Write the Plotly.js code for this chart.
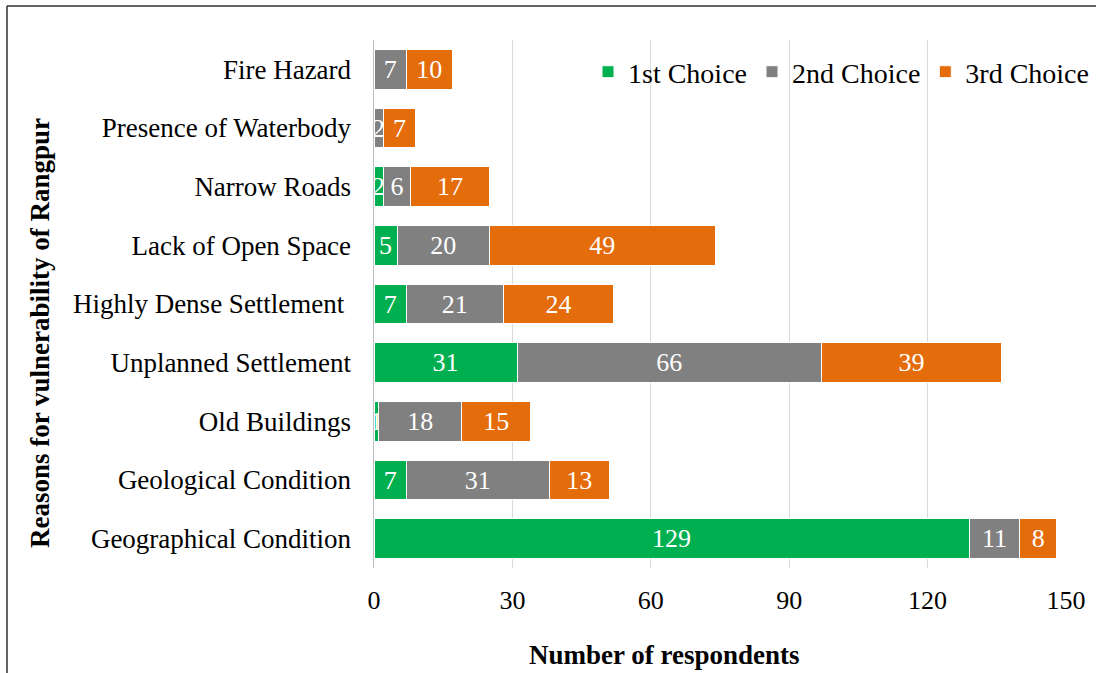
<!DOCTYPE html>
<html>
<head>
<meta charset="utf-8">
<script src="https://cdn.plot.ly/plotly-3.0.1.min.js"></script>
<style>
html,body{margin:0;padding:0;background:#fff;}
#chart{width:1096px;height:673px;}
</style>
</head>
<body>
<div id="chart"></div>
<script>
const categories = ["Geographical Condition","Geological Condition","Old Buildings","Unplanned Settlement","Highly Dense Settlement ","Lack of Open Space","Narrow Roads","Presence of Waterbody","Fire Hazard"];
const firstChoice = [129, 7, 1, 31, 7, 5, 2, 0, 0];
const secondChoice = [11, 31, 18, 66, 21, 20, 6, 2, 7];
const thirdChoice = [8, 13, 15, 39, 24, 49, 17, 7, 10];
const seriesNames = ["1st Choice","2nd Choice","3rd Choice"];
const seriesColors = ["#00B050","#808080","#E46C0A"];
const xTicks = [0, 30, 60, 90, 120, 150];

const FONT = "Liberation Serif, Times New Roman, serif";
const W = 1096, H = 673;
const L = 374, R = 30, T = 40, B = 105;
const pw = W - L - R, ph = H - T - B;
const px = x => (x - L) / pw;
const py = y => (H - B - y) / ph;

const series = [firstChoice, secondChoice, thirdChoice];
const traces = series.map((vals, i) => ({
  type: "bar",
  orientation: "h",
  name: seriesNames[i],
  y: categories,
  x: vals,
  text: vals.map(String),
  textposition: "inside",
  insidetextanchor: "middle",
  constraintext: "none",
  cliponaxis: false,
  textfont: {family: FONT, size: 26, color: "#FFFFFF"},
  marker: {color: seriesColors[i], line: {color: "#FFFFFF", width: 1}},
  hoverinfo: "x+y+name"
}));

const layout = {
  width: W, height: H,
  margin: {l: L, r: R, t: T, b: B, pad: 0, autoexpand: false},
  paper_bgcolor: "#FFFFFF",
  plot_bgcolor: "#FFFFFF",
  barmode: "stack",
  bargap: 0.32,
  font: {family: FONT, size: 27, color: "#000000"},
  showlegend: true,
  legend: {
    orientation: "h", traceorder: "normal",
    x: px(1094), xanchor: "right", y: py(72), yanchor: "middle",
    font: {family: FONT, size: 28, color: "#000000"},
    bgcolor: "rgba(0,0,0,0)", itemwidth: 30
  },
  xaxis: {
    range: [0, 150], tickvals: xTicks, ticktext: xTicks.map(String),
    showgrid: true, gridcolor: "#D9D9D9", gridwidth: 1,
    zeroline: false, showline: false, ticks: "",
    tickfont: {family: FONT, size: 26, color: "#000000"},
    ticklabelstandoff: 14, fixedrange: true
  },
  yaxis: {
    type: "category", categoryorder: "array", categoryarray: categories,
    showgrid: false, zeroline: false,
    showline: true, linecolor: "#BFBFBF", linewidth: 1.5,
    ticks: "", tickfont: {family: FONT, size: 27, color: "#000000"},
    ticklabelstandoff: 16, fixedrange: true
  },
  annotations: [
    {text: "<b>Number of respondents</b>", xref: "paper", yref: "paper",
     x: px(664), y: py(655), xanchor: "center", yanchor: "middle", showarrow: false,
     font: {family: FONT, size: 27, color: "#000000"}},
    {text: "<b>Reasons for vulnerability of Rangpur</b>", xref: "paper", yref: "paper",
     x: px(40), y: py(333), xanchor: "center", yanchor: "middle", showarrow: false, textangle: -90,
     font: {family: FONT, size: 27, color: "#000000"}}
  ],
  shapes: [
    {type: "line", xref: "paper", yref: "paper", x0: px(7), x1: px(7), y0: py(673), y1: py(6),
     line: {color: "#303030", width: 1.5}},
    {type: "line", xref: "paper", yref: "paper", x0: px(7), x1: px(1096), y0: py(6), y1: py(6),
     line: {color: "#303030", width: 1.5}}
  ]
};

Plotly.newPlot("chart", traces, layout, {displayModeBar: false, staticPlot: true});
</script>
</body>
</html>
